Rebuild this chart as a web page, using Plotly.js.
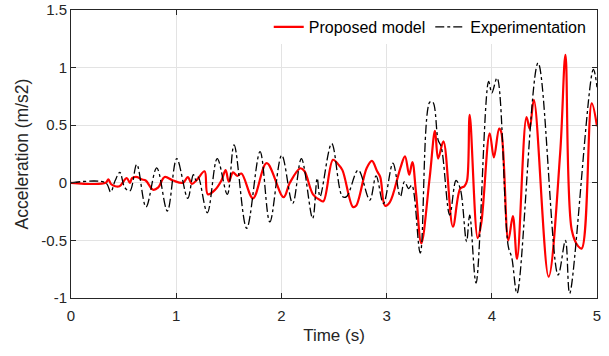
<!DOCTYPE html>
<html>
<head>
<meta charset="utf-8">
<script src="https://cdn.plot.ly/plotly-3.0.1.min.js"></script>
<style>html,body{margin:0;padding:0;background:#fff;}#chart{width:609px;height:356px;}</style>
</head>
<body>
<div id="chart"></div>
<script>
// Proposed model (red)
const timeModel = [0,0.33,0.355,0.38,0.42,0.46,0.53,0.56,0.58,0.63,0.67,0.71,0.78,0.83,0.89,0.97,1.065,1.11,1.15,1.2,1.27,1.30,1.37,1.43,1.47,1.50,1.54,1.58,1.62,1.73,1.86,2.02,2.08,2.18,2.22,2.30,2.367,2.40,2.49,2.54,2.58,2.68,2.71,2.81,2.86,2.91,2.94,2.985,3.03,3.13,3.175,3.215,3.245,3.28,3.33,3.41,3.46,3.49,3.54,3.63,3.70,3.74,3.765,3.79,3.866,3.90,3.98,4.02,4.07,4.09,4.157,4.20,4.24,4.33,4.36,4.40,4.54,4.65,4.70,4.76,4.82,4.855,4.95,5.0];
const accModel = [0,0,0.03,-0.01,-0.03,-0.03,0.04,0.0,0.04,0.05,0.03,0.02,-0.06,-0.04,0.05,0.02,0.0,0.05,-0.01,0.03,0.10,-0.10,-0.06,0.02,0.11,0.01,0.09,0.06,0.08,-0.135,0.17,-0.125,0.0,0.126,0.10,-0.10,-0.15,-0.16,0.20,0.16,0.11,-0.21,-0.20,0.126,0.19,0.10,0.05,-0.20,-0.17,0.126,0.23,0.07,0.18,-0.09,-0.525,0.05,0.45,0.21,0.36,-0.38,-0.05,-0.03,0.02,0.59,-0.48,-0.35,0.43,0.22,0.47,0.44,-0.50,-0.29,-0.66,0.57,0.47,0.72,-0.815,0.26,1.11,-0.41,-0.55,-0.57,0.69,0.49];

// Experimentation (black dash-dot)
const timeExp = [0,0.33,0.377,0.42,0.465,0.51,0.56,0.625,0.713,0.815,0.916,1.005,1.11,1.163,1.19,1.21,1.296,1.39,1.486,1.55,1.67,1.797,1.89,2.003,2.107,2.19,2.297,2.34,2.367,2.478,2.58,2.62,2.73,2.84,2.9,2.97,3.06,3.13,3.17,3.21,3.24,3.32,3.41,3.44,3.49,3.52,3.60,3.66,3.70,3.76,3.79,3.85,3.97,4.00,4.05,4.157,4.19,4.24,4.44,4.63,4.70,4.74,4.965,5.0];
const accExp = [0,0,-0.08,0.02,0.09,-0.04,-0.07,0.16,-0.21,0.13,-0.245,0.21,-0.135,0.07,0.02,0.05,-0.26,0.21,-0.10,0.33,-0.395,0.27,-0.34,0.24,-0.18,0.21,-0.31,0.04,-0.12,0.34,-0.12,-0.12,0.11,-0.15,0.06,-0.18,0.17,-0.12,0.01,-0.05,-0.02,-0.61,0.70,0.70,0.37,0.31,-0.28,0.02,-0.05,-0.51,-0.28,-0.87,0.88,0.78,0.91,-0.555,-0.65,-0.96,1.04,-0.80,-0.50,-0.96,0.985,0.83];

const xTicks = [0,1,2,3,4,5];
const yTicks = [-1,-0.5,0,0.5,1,1.5];
const yTickLabels = ['-1','-0.5','0','0.5','1','1.5'];

const FONT = 'Liberation Sans, Arial, sans-serif';

const traces = [
  {x: timeModel, y: accModel, type: 'scatter', mode: 'lines', name: 'Proposed model',
   line: {color: '#ff0000', width: 2.2, shape: 'spline', smoothing: 1}},
  {x: timeExp, y: accExp, type: 'scatter', mode: 'lines', name: 'Experimentation',
   line: {color: '#000000', width: 1.3, dash: 'dashdot', shape: 'spline', smoothing: 1}}
];

const axisCommon = {
  showline: true, linecolor: '#262626', linewidth: 1, mirror: 'ticks',
  ticks: 'inside', ticklen: 5, tickcolor: '#262626', tickwidth: 1,
  showgrid: true, gridcolor: '#e3e3e3', gridwidth: 1, zeroline: false,
  tickfont: {family: FONT, size: 15, color: '#262626'}
};

const layout = {
  width: 609, height: 356,
  margin: {l: 71, r: 12, t: 10, b: 58},
  paper_bgcolor: '#ffffff', plot_bgcolor: '#ffffff',
  showlegend: true,
  legend: {orientation: 'h', x: 0.99, xanchor: 'right', y: 1.0, yanchor: 'top',
    bgcolor: '#ffffff', borderwidth: 0,
    font: {family: FONT, size: 16, color: '#000000'},
    itemwidth: 30, tracegroupgap: 0},
  xaxis: Object.assign({}, axisCommon, {
    range: [0, 5], tickvals: xTicks, ticktext: xTicks.map(String),
    ticklabelstandoff: 4,
    title: {text: 'Time (s)', font: {family: FONT, size: 17, color: '#262626'}, standoff: 6}
  }),
  yaxis: Object.assign({}, axisCommon, {
    range: [-1, 1.5], tickvals: yTicks, ticktext: yTickLabels,
    title: {text: 'Acceleration (m/s2)', font: {family: FONT, size: 17.5, color: '#262626'}, standoff: 8}
  })
};

Plotly.newPlot('chart', traces, layout, {displayModeBar: false, staticPlot: true});
</script>
</body>
</html>
